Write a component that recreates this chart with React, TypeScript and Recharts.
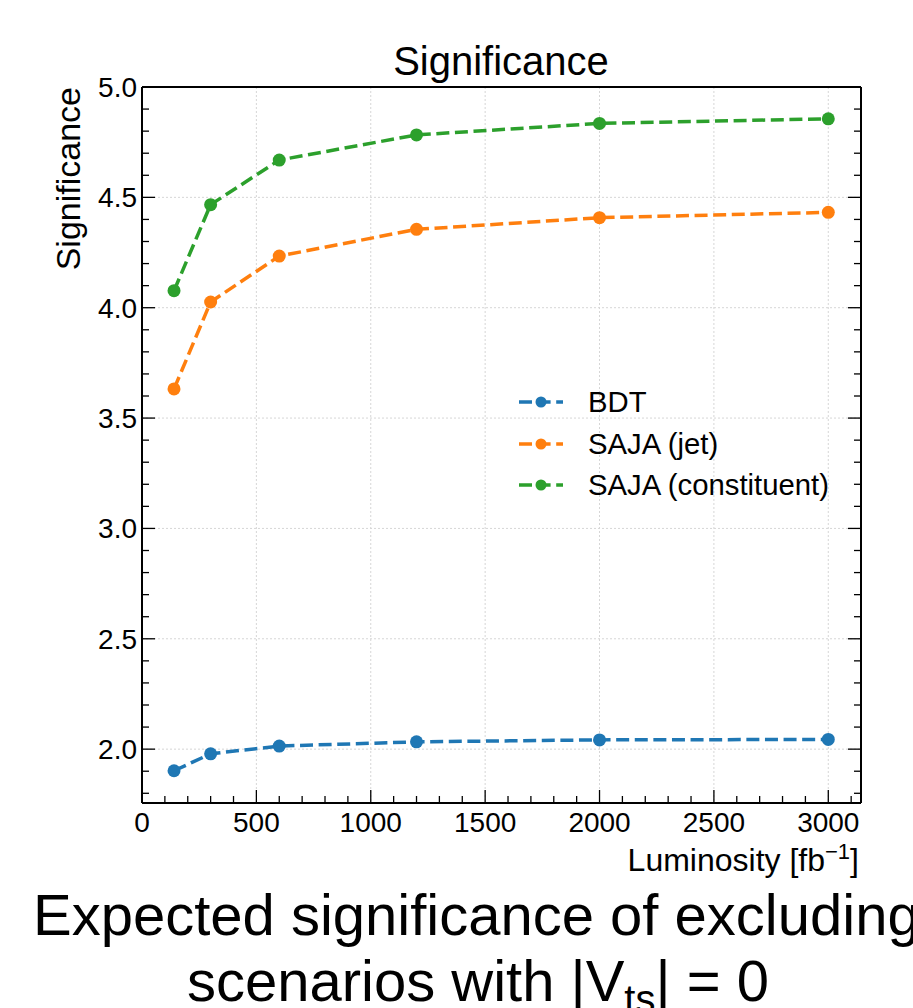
import { LineChart, Line, XAxis, YAxis, CartesianGrid, Legend } from "recharts"

// luminosity points (fb^-1)
const luminosity = [140, 300, 600, 1200, 2000, 3000]
const bdt = [1.902, 1.979, 2.014, 2.033, 2.042, 2.044]
const sajaJet = [3.632, 4.026, 4.234, 4.355, 4.408, 4.432]
const sajaConstituent = [4.077, 4.467, 4.669, 4.783, 4.835, 4.856]

const xMajor = [0, 500, 1000, 1500, 2000, 2500, 3000]
const xMinor = [
  100, 200, 300, 400, 600, 700, 800, 900, 1100, 1200, 1300, 1400, 1600, 1700, 1800, 1900,
  2100, 2200, 2300, 2400, 2600, 2700, 2800, 2900, 3100,
]
const yMajor = [2.0, 2.5, 3.0, 3.5, 4.0, 4.5, 5.0]
const yMinor = [
  1.8, 1.9, 2.1, 2.2, 2.3, 2.4, 2.6, 2.7, 2.8, 2.9, 3.1, 3.2, 3.3, 3.4, 3.6, 3.7, 3.8, 3.9,
  4.1, 4.2, 4.3, 4.4, 4.6, 4.7, 4.8, 4.9,
]

const seriesNames = ["BDT", "SAJA (jet)", "SAJA (constituent)"]
const seriesKeys = ["bdt", "jet", "constituent"]
const seriesColors = ["#1f77b4", "#ff7f0e", "#2ca02c"]

const X_DOMAIN: [number, number] = [0, 3143]
const Y_DOMAIN: [number, number] = [1.756, 5.0]

const FONT = "'Liberation Sans', Arial, Helvetica, sans-serif"
const DASH = "13 5.6"
const MAJOR_LEN = 13
const MINOR_LEN = 7

const data = luminosity.map((x, i) => ({
  x,
  bdt: bdt[i],
  jet: sajaJet[i],
  constituent: sajaConstituent[i],
}))

const xAll = [...xMajor, ...xMinor].sort((a, b) => a - b)
const yAll = [...yMajor, ...yMinor].sort((a, b) => a - b)
const isMajor = (list: number[], v: number) => list.some((m) => Math.abs(m - v) < 1e-6)

const frame = { stroke: "#000", strokeWidth: 2 }

// one tick per side: inward tick line (major or minor) plus label for majors
function makeTick(side: "bottom" | "top" | "left" | "right") {
  return (props: any) => {
    const { x, y, payload } = props
    const v = payload.value as number
    const major = isMajor(side === "bottom" || side === "top" ? xMajor : yMajor, v)
    const len = major ? MAJOR_LEN : MINOR_LEN
    let line
    if (side === "bottom") line = { x1: x, y1: y, x2: x, y2: y - len }
    else if (side === "top") line = { x1: x, y1: y, x2: x, y2: y + len }
    else if (side === "left") line = { x1: x, y1: y, x2: x + len, y2: y }
    else line = { x1: x, y1: y, x2: x - len, y2: y }
    return (
      <g>
        <line {...line} stroke="#000" strokeWidth={1.3} />
        {major && side === "bottom" && (
          <text x={x} y={y + 9} dy="0.71em" textAnchor="middle" fontSize={28} fontFamily={FONT} fill="#000">
            {v}
          </text>
        )}
        {major && side === "left" && (
          <text x={x - 5} y={y} dy="0.355em" textAnchor="end" fontSize={28} fontFamily={FONT} fill="#000">
            {v.toFixed(1)}
          </text>
        )}
      </g>
    )
  }
}

function LegendBox() {
  return (
    <div style={{ fontFamily: FONT, fontSize: 29.3, color: "#000" }}>
      {seriesNames.map((name, i) => (
        <div key={name} style={{ display: "flex", alignItems: "center", height: 41.7 }}>
          <svg width={46} height={20} style={{ marginRight: 24 }}>
            <line x1={1} y1={10} x2={45} y2={10} stroke={seriesColors[i]} strokeWidth={3.5} strokeDasharray={DASH} />
            <circle cx={23} cy={10} r={5.5} fill={seriesColors[i]} />
          </svg>
          <span>{name}</span>
        </div>
      ))}
    </div>
  )
}

export default function App() {
  return (
    <div style={{ position: "absolute", left: 0, top: 0, width: 913, height: 1008, background: "#fff" }}>
      {/* axis sizes are added to these margins: plot spans x 142..861, y 87..803 */}
      <LineChart width={913} height={1008} data={data} margin={{ top: 57, right: 12, bottom: 155, left: 82 }}>
        <CartesianGrid xAxisId="x" yAxisId="y" stroke="#d6d6d6" strokeDasharray="2 2" strokeWidth={1}
          verticalValues={xMajor} horizontalValues={yMajor} />

        <XAxis xAxisId="x" dataKey="x" type="number" domain={X_DOMAIN} allowDataOverflow ticks={xAll}
          interval={0} height={50} tickLine={false} tickSize={0} tickMargin={0} axisLine={frame}
          tick={makeTick("bottom")} />
        <XAxis xAxisId="xt" orientation="top" type="number" domain={X_DOMAIN} allowDataOverflow ticks={xAll}
          interval={0} height={30} tickLine={false} tickSize={0} tickMargin={0} axisLine={frame}
          tick={makeTick("top")} />
        <YAxis yAxisId="y" type="number" domain={Y_DOMAIN} allowDataOverflow ticks={yAll} interval={0}
          width={60} tickLine={false} tickSize={0} tickMargin={0} axisLine={frame}
          tick={makeTick("left")} />
        <YAxis yAxisId="yr" orientation="right" type="number" domain={Y_DOMAIN} allowDataOverflow ticks={yAll}
          interval={0} width={40} tickLine={false} tickSize={0} tickMargin={0} axisLine={frame}
          tick={makeTick("right")} />

        {seriesKeys.map((k, i) => (
          <Line
            key={k}
            xAxisId="x"
            yAxisId="y"
            dataKey={k}
            name={seriesNames[i]}
            type="linear"
            stroke={seriesColors[i]}
            strokeWidth={3.5}
            strokeDasharray={DASH}
            dot={{ r: 6.5, fill: seriesColors[i], stroke: "none", strokeDasharray: "" }}
            isAnimationActive={false}
          />
        ))}

        <Legend layout="vertical" align="center" verticalAlign="middle" content={LegendBox}
          wrapperStyle={{ position: "absolute", left: 518, top: 381, width: 340 }} />
      </LineChart>

      <svg width={913} height={1008} style={{ position: "absolute", left: 0, top: 0, pointerEvents: "none" }}
        fontFamily={FONT} fill="#000">
        <text x={501} y={75} fontSize={40} textAnchor="middle">Significance</text>
        <text transform="translate(80,87) rotate(-90)" fontSize={34} textAnchor="end">Significance</text>
        <text x={859} y={871} fontSize={32} textAnchor="end">
          Luminosity [fb<tspan fontSize={22} dy={-12}>−1</tspan><tspan dy={12}>]</tspan>
        </text>
        <text x={33} y={935} fontSize={58}>Expected significance of excluding</text>
        <text x={187} y={1001} fontSize={58}>
          scenarios with |V<tspan fontSize={40} dy={12}>ts</tspan><tspan dy={-12}>| = 0</tspan>
        </text>
      </svg>
    </div>
  )
}
